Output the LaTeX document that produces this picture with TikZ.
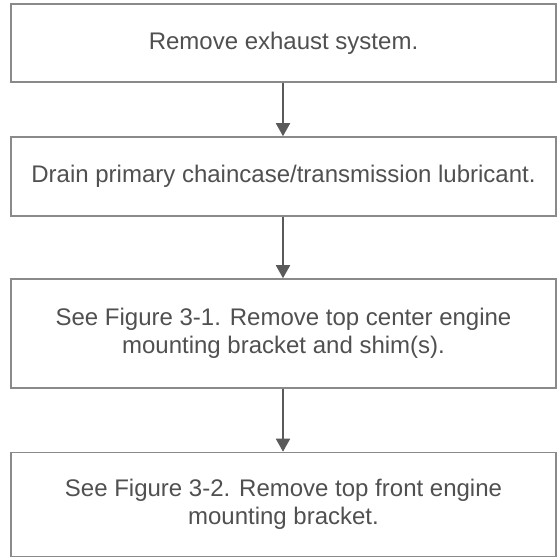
\documentclass[tikz,border=0pt]{standalone}
\usepackage{fontspec}
\setmainfont{Liberation Sans}
\usetikzlibrary{arrows.meta}
\definecolor{boxline}{HTML}{8A8A8A}
\definecolor{arrline}{HTML}{5A5A5A}
\definecolor{txt}{HTML}{505050}
\begin{document}
\begin{tikzpicture}[x=1pt,y=1pt,
  stepbox/.style={draw=boxline, line width=1.6pt, fill=white, minimum width=545pt,
    inner sep=0pt, align=center, text=txt, font=\fontsize{24}{28}\selectfont},
  flow/.style={draw=arrline, line width=1.8pt, -{Triangle[width=14pt,length=13pt]}}]
\useasboundingbox[fill=white] (0,0) rectangle (558,-558);
\node[stepbox, minimum height=78pt] (b1) at (283.5,-43) {Remove exhaust system.};
\node[stepbox, minimum height=79pt] (b2) at (283.5,-176.5) {Drain primary chaincase/transmission lubricant.};
\node[stepbox, minimum height=109pt] (b3) at (283.5,-333.5) {See Figure 3-1. Remove top center engine\\mounting bracket and shim(s).};
\node[stepbox, minimum height=104pt] (b4) at (283.5,-504.5) {See Figure 3-2. Remove top front engine\\mounting bracket.};
\draw[flow] (b1.south -| 283,0) -- (b2.north -| 283,0);
\draw[flow] (b2.south -| 283,0) -- (b3.north -| 283,0);
\draw[flow] (b3.south -| 283,0) -- (b4.north -| 283,0);
\end{tikzpicture}
\end{document}
